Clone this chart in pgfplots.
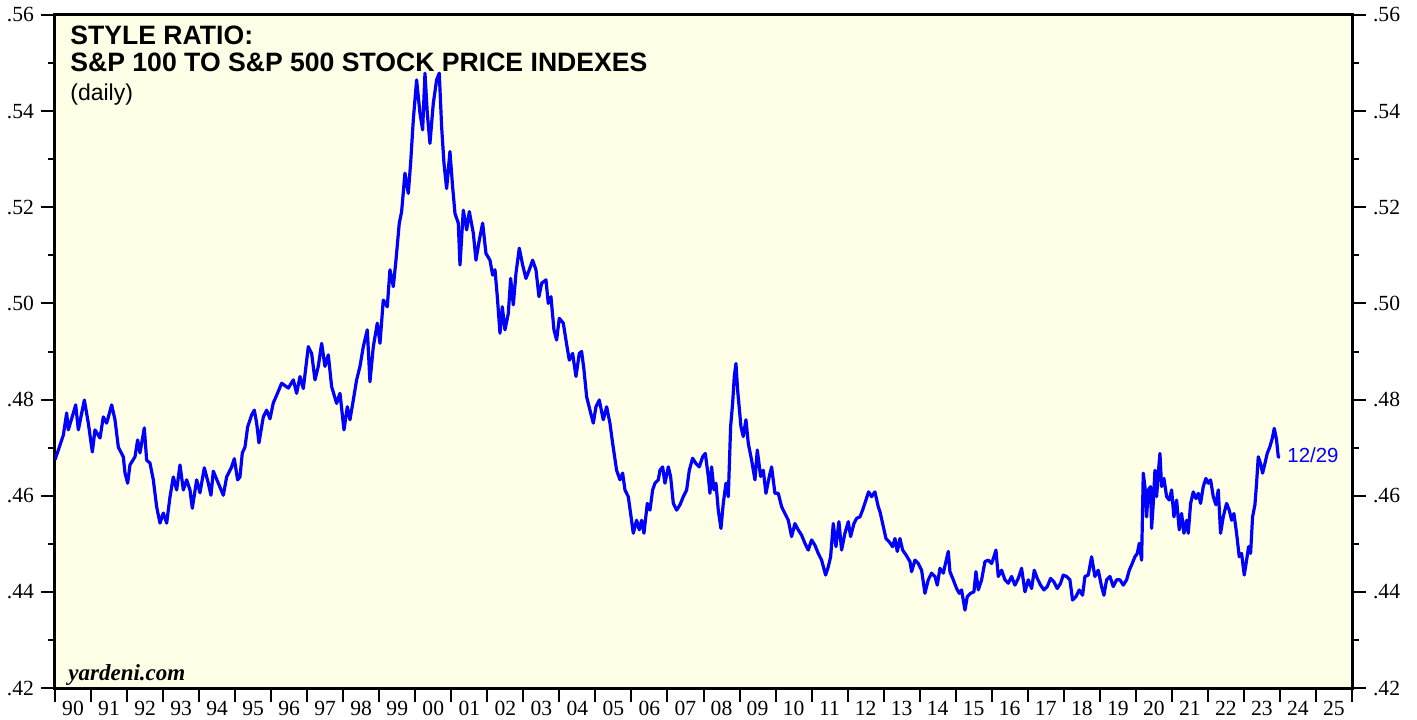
\documentclass[border=0pt]{standalone}
\usepackage{fontspec}
\setmainfont{Liberation Serif}
\newfontfamily\arial{Liberation Sans}
\usepackage{pgfplots}
\usepackage{pgfplotstable}
\pgfplotsset{compat=1.18}
\definecolor{bgyellow}{RGB}{255,254,230}
\definecolor{lineblue}{RGB}{0,0,255}

\pgfplotstableread{
year value
1990.000 .4675
1990.093 .4695
1990.231 .4726
1990.324 .4772
1990.370 .4737
1990.509 .4772
1990.574 .4789
1990.648 .4737
1990.814 .4799
1990.925 .4751
1991.036 .4691
1991.110 .4737
1991.249 .4720
1991.341 .4764
1991.434 .4751
1991.573 .4789
1991.665 .4758
1991.758 .4701
1991.896 .4681
1991.943 .4647
1992.017 .4626
1992.081 .4664
1992.220 .4681
1992.294 .4716
1992.359 .4689
1992.479 .4741
1992.544 .4674
1992.636 .4668
1992.729 .4633
1992.821 .4577
1992.914 .4543
1993.006 .4564
1993.099 .4543
1993.191 .4597
1993.284 .4639
1993.377 .4612
1993.469 .4664
1993.562 .4612
1993.654 .4633
1993.747 .4612
1993.811 .4574
1993.932 .4633
1994.024 .4606
1994.144 .4658
1994.255 .4626
1994.329 .4601
1994.394 .4651
1994.533 .4626
1994.672 .4601
1994.764 .4639
1994.903 .4660
1994.977 .4677
1995.069 .4633
1995.134 .4639
1995.199 .4689
1995.273 .4701
1995.347 .4743
1995.458 .4768
1995.532 .4778
1995.597 .4751
1995.661 .4710
1995.782 .4764
1995.874 .4778
1995.967 .4760
1996.059 .4793
1996.180 .4814
1996.291 .4834
1996.476 .4824
1996.615 .4841
1996.707 .4813
1996.800 .4848
1996.892 .4823
1997.031 .4910
1997.123 .4896
1997.216 .4841
1997.308 .4869
1997.401 .4917
1997.493 .4869
1997.586 .4893
1997.678 .4827
1997.817 .4792
1997.910 .4813
1998.021 .4737
1998.113 .4785
1998.187 .4758
1998.280 .4799
1998.372 .4841
1998.465 .4869
1998.557 .4910
1998.668 .4945
1998.742 .4837
1998.835 .4910
1998.946 .4959
1999.020 .4917
1999.112 .5007
1999.223 .4993
1999.297 .5070
1999.390 .5035
1999.464 .5090
1999.556 .5167
1999.621 .5191
1999.713 .5271
1999.806 .5229
1999.871 .5292
1999.945 .5382
2000.037 .5465
2000.130 .5396
2000.204 .5361
2000.269 .5479
2000.333 .5396
2000.407 .5333
2000.500 .5416
2000.592 .5465
2000.666 .5479
2000.731 .5368
2000.796 .5292
2000.870 .5239
2000.962 .5316
2001.036 .5243
2001.102 .5187
2001.194 .5167
2001.241 .5080
2001.333 .5194
2001.426 .5153
2001.500 .5191
2001.611 .5146
2001.685 .5090
2001.777 .5132
2001.870 .5167
2001.962 .5104
2002.073 .5090
2002.147 .5059
2002.212 .5070
2002.277 .5014
2002.351 .4938
2002.415 .4993
2002.489 .4945
2002.582 .4979
2002.647 .5052
2002.721 .4997
2002.795 .5063
2002.887 .5115
2002.980 .5080
2003.072 .5052
2003.165 .5070
2003.257 .5090
2003.350 .5070
2003.433 .5014
2003.507 .5042
2003.627 .5049
2003.692 .5000
2003.766 .5014
2003.849 .4945
2003.923 .4924
2003.997 .4969
2004.108 .4959
2004.182 .4924
2004.275 .4882
2004.367 .4896
2004.460 .4848
2004.552 .4896
2004.617 .4900
2004.682 .4862
2004.756 .4806
2004.848 .4778
2004.941 .4751
2005.015 .4785
2005.107 .4799
2005.218 .4758
2005.311 .4785
2005.403 .4751
2005.478 .4709
2005.588 .4653
2005.681 .4633
2005.755 .4647
2005.820 .4612
2005.912 .4598
2005.977 .4563
2006.051 .4522
2006.143 .4549
2006.217 .4529
2006.282 .4549
2006.347 .4522
2006.440 .4584
2006.514 .4570
2006.588 .4612
2006.653 .4626
2006.745 .4633
2006.791 .4653
2006.865 .4660
2006.930 .4626
2007.023 .4660
2007.087 .4640
2007.162 .4584
2007.254 .4570
2007.347 .4581
2007.439 .4598
2007.532 .4612
2007.606 .4653
2007.698 .4678
2007.791 .4667
2007.883 .4660
2007.976 .4681
2008.050 .4688
2008.133 .4640
2008.179 .4605
2008.225 .4660
2008.290 .4612
2008.346 .4626
2008.410 .4570
2008.484 .4532
2008.549 .4584
2008.623 .4626
2008.688 .4598
2008.753 .4744
2008.808 .4792
2008.854 .4848
2008.901 .4875
2008.947 .4820
2008.993 .4782
2009.039 .4744
2009.104 .4723
2009.178 .4758
2009.243 .4709
2009.335 .4674
2009.428 .4633
2009.493 .4695
2009.585 .4640
2009.659 .4653
2009.733 .4605
2009.826 .4640
2009.890 .4660
2009.983 .4605
2010.075 .4605
2010.168 .4577
2010.260 .4563
2010.353 .4549
2010.445 .4515
2010.538 .4542
2010.630 .4529
2010.723 .4518
2010.815 .4501
2010.908 .4487
2011.000 .4508
2011.093 .4497
2011.185 .4480
2011.278 .4466
2011.389 .4435
2011.463 .4452
2011.528 .4473
2011.602 .4542
2011.676 .4494
2011.759 .4546
2011.833 .4487
2011.926 .4522
2012.018 .4546
2012.083 .4515
2012.175 .4542
2012.250 .4553
2012.342 .4556
2012.416 .4570
2012.508 .4591
2012.582 .4608
2012.666 .4598
2012.758 .4608
2012.851 .4577
2012.898 .4567
2012.990 .4536
2013.064 .4511
2013.157 .4504
2013.249 .4494
2013.314 .4511
2013.379 .4484
2013.453 .4511
2013.527 .4487
2013.619 .4477
2013.730 .4463
2013.776 .4442
2013.869 .4466
2013.961 .4459
2014.054 .4445
2014.146 .4397
2014.239 .4425
2014.331 .4439
2014.424 .4432
2014.489 .4414
2014.563 .4449
2014.655 .4439
2014.729 .4463
2014.794 .4484
2014.840 .4442
2014.933 .4425
2015.025 .4407
2015.099 .4397
2015.164 .4404
2015.257 .4362
2015.321 .4390
2015.414 .4397
2015.506 .4400
2015.562 .4442
2015.627 .4404
2015.719 .4425
2015.812 .4463
2015.904 .4466
2015.997 .4459
2016.061 .4473
2016.117 .4487
2016.182 .4432
2016.274 .4445
2016.367 .4425
2016.459 .4418
2016.552 .4432
2016.644 .4414
2016.737 .4428
2016.829 .4449
2016.922 .4400
2017.014 .4425
2017.107 .4407
2017.181 .4445
2017.264 .4428
2017.356 .4414
2017.449 .4404
2017.541 .4411
2017.634 .4428
2017.726 .4421
2017.819 .4407
2017.911 .4418
2017.985 .4435
2018.078 .4432
2018.170 .4425
2018.244 .4383
2018.337 .4390
2018.430 .4404
2018.522 .4393
2018.587 .4432
2018.679 .4435
2018.772 .4473
2018.864 .4432
2018.957 .4445
2019.049 .4411
2019.114 .4393
2019.188 .4425
2019.281 .4432
2019.373 .4411
2019.465 .4425
2019.559 .4425
2019.651 .4414
2019.744 .4425
2019.818 .4445
2019.882 .4456
2019.975 .4473
2020.040 .4480
2020.095 .4501
2020.160 .4466
2020.206 .4647
2020.252 .4619
2020.299 .4556
2020.345 .4612
2020.410 .4619
2020.437 .4532
2020.484 .4584
2020.530 .4653
2020.576 .4598
2020.623 .4647
2020.669 .4688
2020.715 .4619
2020.780 .4636
2020.854 .4598
2020.928 .4591
2020.993 .4612
2021.057 .4556
2021.131 .4591
2021.205 .4529
2021.270 .4563
2021.335 .4522
2021.409 .4549
2021.455 .4522
2021.520 .4584
2021.594 .4608
2021.668 .4594
2021.733 .4605
2021.797 .4584
2021.871 .4619
2021.945 .4636
2022.010 .4626
2022.075 .4633
2022.149 .4598
2022.223 .4581
2022.288 .4612
2022.352 .4522
2022.426 .4556
2022.519 .4584
2022.593 .4570
2022.658 .4549
2022.722 .4563
2022.796 .4522
2022.870 .4473
2022.935 .4480
2023.009 .4435
2023.074 .4466
2023.130 .4494
2023.185 .4480
2023.240 .4556
2023.305 .4581
2023.351 .4626
2023.398 .4681
2023.462 .4667
2023.518 .4647
2023.583 .4667
2023.647 .4688
2023.721 .4702
2023.786 .4719
2023.842 .4740
2023.906 .4716
2023.953 .4681
2023.999 .4680
}\ratiodata

\begin{document}
\begin{tikzpicture}
\path[use as bounding box] (-27.5pt,-15.5pt) rectangle (681pt,344pt);
\begin{axis}[
  at={(0pt,0pt)}, anchor=south west, scale only axis,
  width=648.5pt, height=336.5pt,
  xmin=1990, xmax=2026, ymin=0.42, ymax=0.56,
  axis background/.style={fill=bgyellow},
  axis line style={line width=1.5pt},
  tick style={black, line width=1pt},
  tick align=outside,
  major tick length=7pt, minor tick length=3.5pt,
  xtick={1990,1991,...,2026},
  x tick label as interval,
  xticklabels={90,91,92,93,94,95,96,97,98,99,00,01,02,03,04,05,06,07,08,09,10,11,12,13,14,15,16,17,18,19,20,21,22,23,24,25},
  xtick pos=bottom, ytick pos=left,
  ytick={0.42,0.44,0.46,0.48,0.50,0.52,0.54,0.56},
  yticklabels={.42,.44,.46,.48,.50,.52,.54,.56},
  minor ytick={0.43,0.45,0.47,0.49,0.51,0.53,0.55},
  tick label style={font=\fontsize{10.8pt}{12pt}\selectfont, text=black},
  xticklabel style={yshift=4pt},
]
\addplot[lineblue, line width=1.6pt, line join=round] table[x=year, y=value] {\ratiodata};
\end{axis}
\begin{axis}[
  at={(0pt,0pt)}, anchor=south west, scale only axis,
  width=648.5pt, height=336.5pt,
  xmin=1990, xmax=2026, ymin=0.42, ymax=0.56,
  hide x axis,
  axis line style={draw=none},
  tick style={black, line width=1pt},
  tick align=outside,
  major tick length=7pt, minor tick length=3.5pt,
  ytick pos=right, yticklabel pos=right,
  ytick={0.42,0.44,0.46,0.48,0.50,0.52,0.54,0.56},
  yticklabels={.42,.44,.46,.48,.50,.52,.54,.56},
  minor ytick={0.43,0.45,0.47,0.49,0.51,0.53,0.55},
  tick label style={font=\fontsize{10.8pt}{12pt}\selectfont, text=black},
]
\end{axis}
\node[anchor=base west, inner sep=0pt, font=\arial\bfseries\fontsize{13.3pt}{15pt}\selectfont] at (7.5pt,321.5pt) {STYLE RATIO:};
\node[anchor=base west, inner sep=0pt, font=\arial\bfseries\fontsize{13.3pt}{15pt}\selectfont] at (7.5pt,308pt) {S\&P 100 TO S\&P 500 STOCK PRICE INDEXES};
\node[anchor=base west, inner sep=0pt, font=\arial\fontsize{11.5pt}{13pt}\selectfont] at (7.5pt,294pt) {(daily)};
\node[anchor=base west, inner sep=0pt, font=\bfseries\itshape\fontsize{11.5pt}{13pt}\selectfont] at (6.5pt,4pt) {yardeni.com};
\node[anchor=base west, inner sep=0pt, text=lineblue, font=\arial\fontsize{10.2pt}{12pt}\selectfont] at (616pt,113pt) {12/29};
\end{tikzpicture}
\end{document}
